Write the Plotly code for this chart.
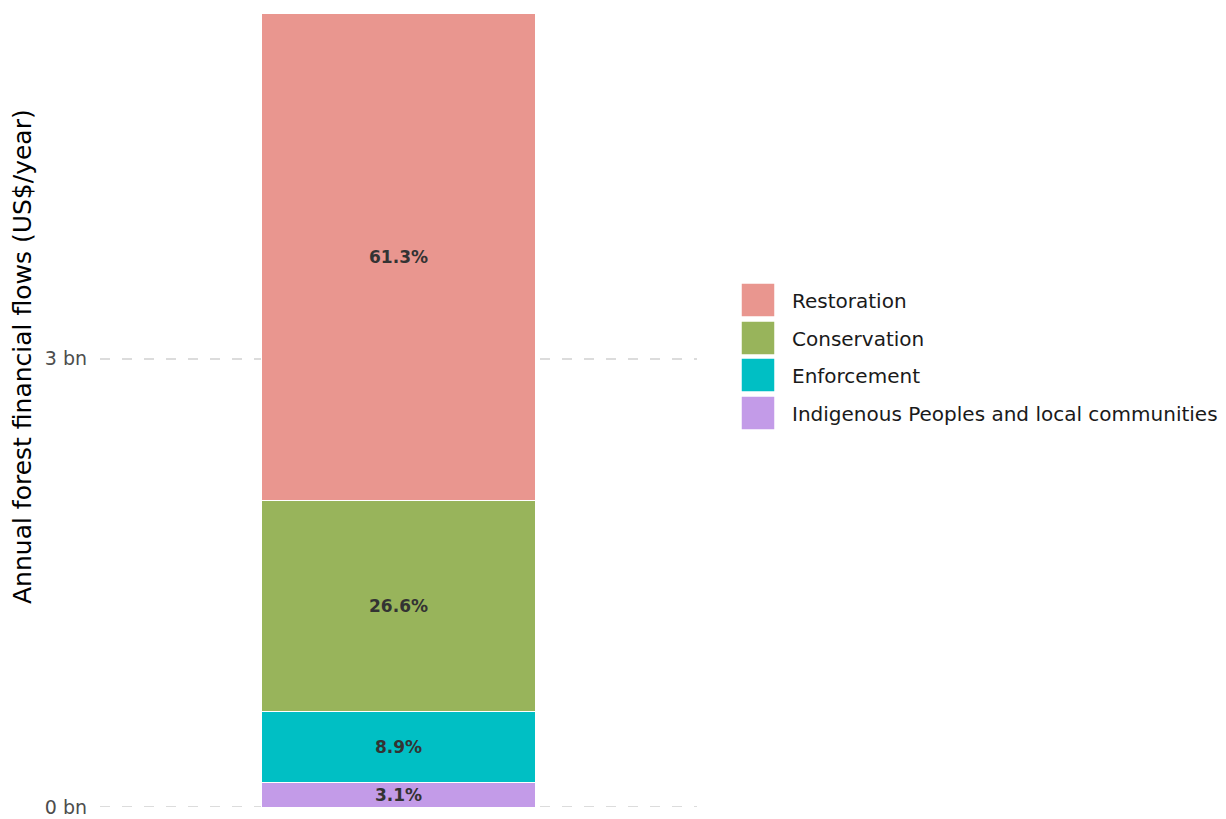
import plotly.graph_objects as go

# ---- data (bottom to top of the stack) ----
categories = ["Indigenous Peoples and local communities", "Enforcement", "Conservation", "Restoration"]
values_bn = [0.165, 0.473, 1.415, 3.26]
pct_labels = ["3.1%", "8.9%", "26.6%", "61.3%"]
colors = ["#C39BE8", "#00BFC4", "#98B45B", "#E9968F"]
legend_order = ["Restoration", "Conservation", "Enforcement", "Indigenous Peoples and local communities"]
tick_vals = [0, 3]
tick_text = ["0 bn", "3 bn"]
x_cat = ["All"]

W, H = 1226, 819
L, R, T, B = 100, 529, 13, 12
pw, ph = W - L - R, H - T - B

def px2x(px):
    return (px - L) / pw

def py2y(py):
    return (H - B - py) / ph

FONT = "DejaVu Sans, Verdana, sans-serif"
GRID = "#DCDCDC"
DASH = "10px,12px"

fig = go.Figure()
for cat, v, lab, col in zip(categories, values_bn, pct_labels, colors):
    fig.add_trace(go.Bar(
        x=x_cat, y=[v], name=cat, text=[lab],
        marker=dict(color=col, line=dict(color="white", width=1)),
        textposition="inside", insidetextanchor="middle", constraintext="none",
        textfont=dict(family=FONT, size=17, color="#333333", weight="bold"),
        width=0.459, showlegend=False,
    ))

total = sum(values_bn)
fig.update_layout(
    barmode="stack",
    width=W, height=H,
    margin=dict(l=L, r=R, t=T, b=B, pad=0, autoexpand=False),
    paper_bgcolor="white", plot_bgcolor="white",
    uniformtext=dict(minsize=17, mode="show"),
    font=dict(family=FONT),
    xaxis=dict(showticklabels=False, showgrid=False, zeroline=False, range=[-0.5, 0.5],
               automargin=False),
    yaxis=dict(range=[0, total], tickvals=tick_vals, ticktext=tick_text,
               showgrid=True, gridcolor=GRID, gridwidth=2, griddash=DASH,
               zeroline=False, showline=False, ticks="", ticklabelstandoff=12,
               automargin=False,
               tickfont=dict(family=FONT, size=19, color="#4D4D4D")),
)

# dashed gridline at zero (edge gridline is not drawn by default)
fig.add_shape(type="line", xref="paper", yref="y", x0=0, x1=1, y0=tick_vals[0], y1=tick_vals[0],
              line=dict(color=GRID, width=2, dash=DASH), layer="below")

# y-axis title
fig.add_annotation(text="Annual forest financial flows (US$/year)", textangle=-90,
                   xref="paper", yref="paper", x=px2x(22), y=py2y(357),
                   xanchor="center", yanchor="middle", showarrow=False,
                   font=dict(family=FONT, size=25, color="#000000"))

# legend
col_map = dict(zip(categories, colors))
row_tops = [283, 321, 358, 396]
for name, top in zip(legend_order, row_tops):
    fig.add_shape(type="rect", xref="paper", yref="paper",
                  x0=px2x(741), x1=px2x(775), y0=py2y(top + 34), y1=py2y(top),
                  fillcolor=col_map[name], line=dict(color="white", width=1.5))
    fig.add_annotation(text=name, xref="paper", yref="paper",
                       x=px2x(790), y=py2y(top + 18), xanchor="left", yanchor="middle",
                       showarrow=False, font=dict(family=FONT, size=20, color="#1A1A1A"))

fig.write_html("out.html")
